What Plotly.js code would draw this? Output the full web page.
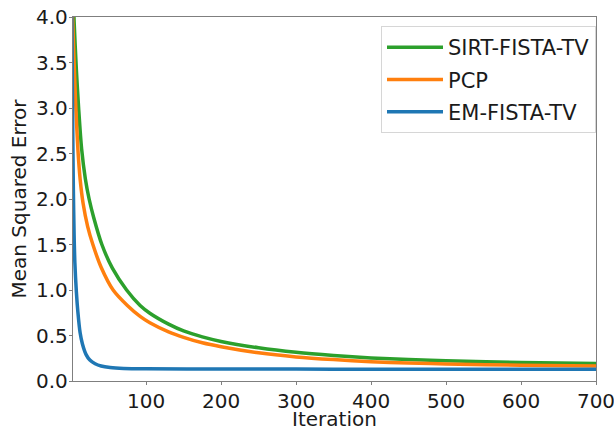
<!DOCTYPE html>
<html>
<head>
<meta charset="utf-8">
<script src="https://cdn.plot.ly/plotly-3.0.1.min.js"></script>
<style>html,body{margin:0;padding:0;background:#fff;}#chart{width:614px;height:431px;}</style>
</head>
<body>
<div id="chart"></div>
<script>
// Series (iteration, mean squared error)
const sirtIter = [1, 2, 3, 4, 7, 10, 14, 19, 24, 30, 41, 55, 74, 92, 105, 130, 150, 175, 200, 250, 300, 350, 400, 450, 500, 600, 700];
const sirtMSE  = [4.8, 4.5, 4.2, 3.95, 3.42, 3.0, 2.55, 2.22, 2.0, 1.8, 1.5, 1.24, 1.0, 0.83, 0.745, 0.625, 0.55, 0.485, 0.435, 0.365, 0.315, 0.28, 0.253, 0.235, 0.222, 0.203, 0.192];

const pcpIter = [1, 2, 3, 4, 6, 9, 12, 16, 22, 29, 40, 56, 75, 92, 105, 130, 150, 175, 200, 250, 300, 350, 400, 450, 500, 600, 700];
const pcpMSE  = [4.25, 4.0, 3.75, 3.5, 3.06, 2.55, 2.22, 1.95, 1.7, 1.5, 1.25, 1.0, 0.83, 0.71, 0.64, 0.54, 0.48, 0.42, 0.377, 0.31, 0.265, 0.235, 0.212, 0.198, 0.187, 0.173, 0.165];

const emIter = [1, 2, 3, 4, 5, 7, 9, 12, 15, 20, 25, 32, 40, 52, 70, 100, 200, 300, 400, 500, 600, 700];
const emMSE  = [4.0, 2.9, 2.1, 1.6, 1.3, 0.98, 0.76, 0.53, 0.41, 0.29, 0.23, 0.19, 0.165, 0.148, 0.138, 0.134, 0.132, 0.131, 0.13, 0.13, 0.13, 0.13];

const seriesNames = ["SIRT-FISTA-TV", "PCP", "EM-FISTA-TV"];
const xTicks = [100, 200, 300, 400, 500, 600, 700];
const yTicks = [0, 0.5, 1, 1.5, 2, 2.5, 3, 3.5, 4];

const colors = ["#2ca02c", "#ff7f0e", "#1f77b4"];
const xs = [sirtIter, pcpIter, emIter];
const ys = [sirtMSE, pcpMSE, emMSE];

const data = seriesNames.map((n, i) => ({
  type: "scatter", mode: "lines", name: n, legendgroup: "g" + i,
  x: xs[i], y: ys[i],
  line: {color: colors[i], width: 3.5, shape: "spline", smoothing: 0.8},
  cliponaxis: true
}));

const font = {family: "DejaVu Sans, sans-serif", size: 20, color: "#1a1a1a"};
const legendFont = {family: "DejaVu Sans, sans-serif", size: 21, color: "#1a1a1a"};
const axisCommon = {
  showline: true, linecolor: "#7f7f7f", linewidth: 1.2, mirror: true,
  ticks: "outside", ticklen: 3, tickcolor: "#7f7f7f", tickwidth: 1,
  showgrid: false, zeroline: false, tickfont: font, ticklabeloverflow: "allow"
};

const layout = {
  width: 614, height: 431,
  margin: {l: 73, r: 18, t: 17, b: 50, pad: 0},
  paper_bgcolor: "#fff", plot_bgcolor: "#fff",
  font: font,
  showlegend: true,
  legend: {
    x: 1.0, y: 0.975, xanchor: "right", yanchor: "top",
    bgcolor: "rgba(255,255,255,0.9)", bordercolor: "#d6d6d6", borderwidth: 1,
    font: legendFont, traceorder: "grouped", tracegroupgap: 2, itemwidth: 56
  },
  xaxis: Object.assign({}, axisCommon, {
    range: [2.5, 700], tickvals: xTicks, ticktext: xTicks.map(String),
    ticklabelstandoff: -1,
    title: {text: "Iteration", font: font, standoff: 0}
  }),
  yaxis: Object.assign({}, axisCommon, {
    range: [0, 4], tickvals: yTicks, ticktext: yTicks.map(v => v.toFixed(1)),
    ticklabelstandoff: -3,
    title: {text: "Mean Squared Error", font: font, standoff: 4}
  })
};

Plotly.newPlot("chart", data, layout, {staticPlot: true, displayModeBar: false});
</script>
</body>
</html>
